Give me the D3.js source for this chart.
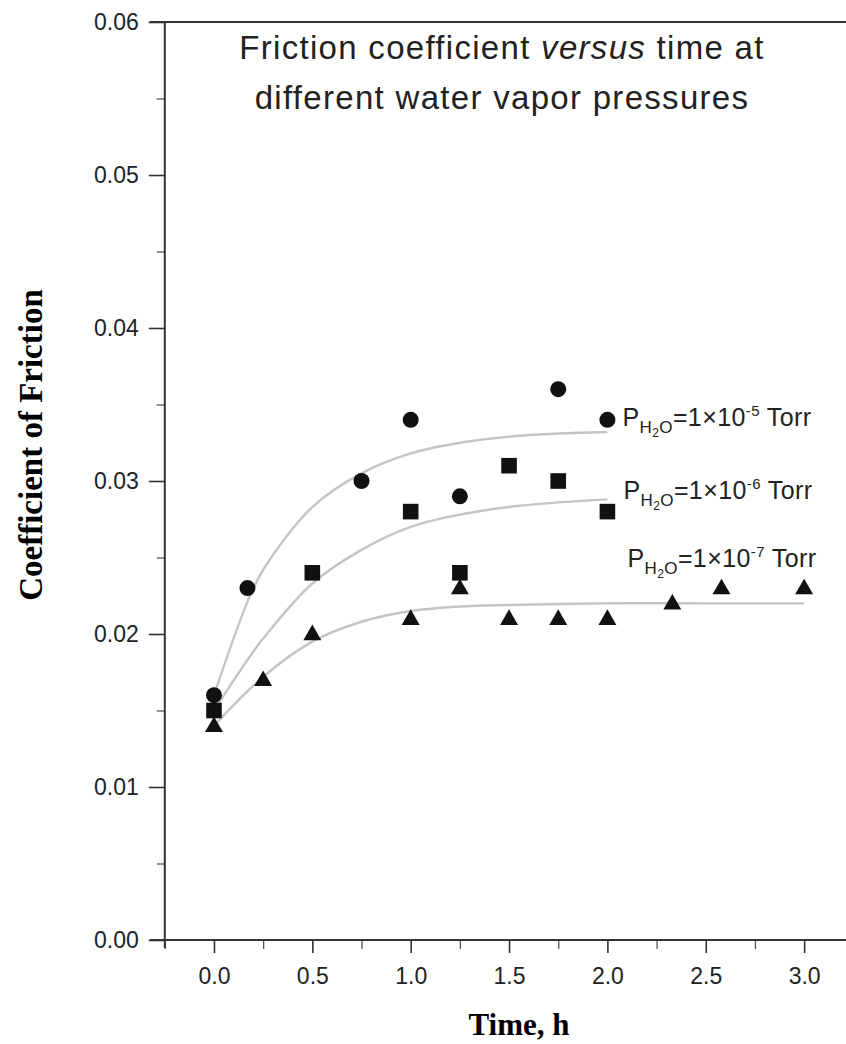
<!DOCTYPE html>
<html>
<head>
<meta charset="utf-8">
<script src="https://cdn.jsdelivr.net/npm/d3@7"></script>
<style>
  body { margin: 0; background: #fff; }
  svg { display: block; }
  .tick-label { font-family: "Liberation Sans", Arial, sans-serif; fill: #222; }
</style>
</head>
<body>
<svg id="chart" width="846" height="1044"></svg>
<script>
// measured points (time in h, coefficient of friction)
const timeCircle = [0, 0.17, 0.75, 1.0, 1.25, 1.75, 2.0];
const cofCircle = [0.016, 0.023, 0.030, 0.034, 0.029, 0.036, 0.034];

const timeSquare = [0, 0.5, 1.0, 1.25, 1.5, 1.75, 2.0];
const cofSquare = [0.015, 0.024, 0.028, 0.024, 0.031, 0.030, 0.028];

const timeTriangle = [0, 0.25, 0.5, 1.0, 1.25, 1.5, 1.75, 2.0, 2.33, 2.58, 3.0];
const cofTriangle = [0.014, 0.017, 0.020, 0.021, 0.023, 0.021, 0.021, 0.021, 0.022, 0.023, 0.023];

// fitted curves
const fitTime = [0, 0.17, 0.25, 0.5, 0.75, 1.0, 1.25, 1.5, 1.75, 2.0];
const fitCircle = [0.0160, 0.0221, 0.0242, 0.0283, 0.0305, 0.0318, 0.0325, 0.0329, 0.0331, 0.0332];
const fitSquare = [0.0150, 0.0183, 0.0197, 0.0233, 0.0255, 0.0270, 0.0278, 0.0283, 0.0286, 0.0288];
const fitTimeTriangle = [0, 0.25, 0.5, 0.75, 1.0, 1.25, 1.5, 2.0, 2.5, 3.0];
const fitTriangle = [0.0140, 0.0172, 0.0195, 0.0208, 0.0215, 0.0218, 0.0219, 0.0220, 0.0220, 0.0220];

// ticks
const xMajorTicks = [0, 0.5, 1.0, 1.5, 2.0, 2.5, 3.0];
const xMinorTicks = [-0.25, 0.25, 0.75, 1.25, 1.75, 2.25, 2.75];
const yMajorTicks = [0, 0.01, 0.02, 0.03, 0.04, 0.05, 0.06];
const yMinorTicks = [0.005, 0.015, 0.025, 0.035, 0.045, 0.055];

// annotation exponents for each series
const pressureExp = ["-5", "-6", "-7"];

const svg = d3.select("#chart");
const fontSans = '"Liberation Sans", Arial, sans-serif';
const fontSerif = '"Liberation Serif", "Times New Roman", serif';

const xScale = d3.scaleLinear().domain([-0.25, 3.22]).range([164.8, 847.4]);
const yScale = d3.scaleLinear().domain([0, 0.06]).range([940, 22]);

// axes: major ticks with labels
svg.append("g")
    .attr("transform", `translate(0, ${yScale(0)})`)
    .call(d3.axisBottom(xScale).tickValues(xMajorTicks).tickSize(13).tickPadding(15)
        .tickFormat(d3.format(".1f")))
    .call(g => g.select(".domain").remove())
    .call(g => g.selectAll("line").attr("stroke", "#333").attr("stroke-width", 1.6))
    .call(g => g.selectAll("text").attr("class", "tick-label")
        .style("font-family", fontSans).style("font-size", "23px"));

svg.append("g")
    .attr("transform", `translate(0, ${yScale(0)})`)
    .call(d3.axisBottom(xScale).tickValues(xMinorTicks).tickSize(9).tickFormat(""))
    .call(g => g.select(".domain").remove())
    .call(g => g.selectAll("line").attr("stroke", "#555").attr("stroke-width", 1.3));

svg.append("g")
    .attr("transform", `translate(${xScale(-0.25)}, 0)`)
    .call(d3.axisLeft(yScale).tickValues(yMajorTicks).tickSize(16).tickPadding(10)
        .tickFormat(d3.format(".2f")))
    .call(g => g.select(".domain").remove())
    .call(g => g.selectAll("line").attr("stroke", "#333").attr("stroke-width", 1.6))
    .call(g => g.selectAll("text").attr("class", "tick-label")
        .style("font-family", fontSans).style("font-size", "23px"));

svg.append("g")
    .attr("transform", `translate(${xScale(-0.25)}, 0)`)
    .call(d3.axisLeft(yScale).tickValues(yMinorTicks).tickSize(8).tickFormat(""))
    .call(g => g.select(".domain").remove())
    .call(g => g.selectAll("line").attr("stroke", "#555").attr("stroke-width", 1.3));

// frame lines
const frame = svg.append("g").attr("stroke", "#333").attr("stroke-width", 2);
frame.append("line")
    .attr("x1", 150).attr("x2", 846)
    .attr("y1", yScale(0)).attr("y2", yScale(0));
frame.append("line")
    .attr("x1", 150).attr("x2", 846)
    .attr("y1", yScale(0.06)).attr("y2", yScale(0.06));
frame.append("line")
    .attr("x1", xScale(-0.25)).attr("x2", xScale(-0.25))
    .attr("y1", yScale(0.06)).attr("y2", yScale(0) + 8);

// fitted curves
const line = d3.line()
    .x(d => xScale(d[0]))
    .y(d => yScale(d[1]))
    .curve(d3.curveCatmullRom.alpha(0.5));

const fits = [
    d3.zip(fitTime, fitCircle),
    d3.zip(fitTime, fitSquare),
    d3.zip(fitTimeTriangle, fitTriangle)
];

svg.append("g")
    .selectAll("path")
    .data(fits)
    .join("path")
        .attr("d", line)
        .attr("fill", "none")
        .attr("stroke", "#c4c4c4")
        .attr("stroke-width", 2.4);

// markers
const markColor = "#111";

svg.append("g")
    .selectAll("circle")
    .data(d3.zip(timeCircle, cofCircle))
    .join("circle")
        .attr("cx", d => xScale(d[0]))
        .attr("cy", d => yScale(d[1]))
        .attr("r", 8)
        .attr("fill", markColor);

svg.append("g")
    .selectAll("rect")
    .data(d3.zip(timeSquare, cofSquare))
    .join("rect")
        .attr("x", d => xScale(d[0]) - 7.8)
        .attr("y", d => yScale(d[1]) - 7.8)
        .attr("width", 15.6)
        .attr("height", 15.6)
        .attr("fill", markColor);

const tri = d3.symbol().type(d3.symbolTriangle).size(140);
svg.append("g")
    .selectAll("path")
    .data(d3.zip(timeTriangle, cofTriangle))
    .join("path")
        .attr("d", tri)
        .attr("transform", d => `translate(${xScale(d[0])}, ${yScale(d[1]) + 1})`)
        .attr("fill", markColor);

// pressure annotations
const labelAnchors = [
    { x: xScale(2.0) + 15, y: yScale(0.034) + 6 },
    { x: xScale(2.0) + 16, y: yScale(0.0287) - 2 },
    { x: xScale(2.0) + 20, y: yScale(0.0244) }
];

labelAnchors.forEach((p, i) => {
    const t = svg.append("text")
        .attr("x", p.x).attr("y", p.y)
        .attr("fill", "#222")
        .style("font-family", fontSans)
        .style("font-size", "25px")
        .style("letter-spacing", "0.4px");
    t.append("tspan").text("P");
    t.append("tspan").text("H").style("font-size", "17px").attr("dy", 7);
    t.append("tspan").text("2").style("font-size", "12px").attr("dy", 4);
    t.append("tspan").text("O").style("font-size", "17px").attr("dy", -4);
    t.append("tspan").text("=1\u00d710").attr("dy", -7);
    t.append("tspan").text(pressureExp[i]).style("font-size", "15px").attr("dy", -10);
    t.append("tspan").text(" Torr").attr("dy", 10);
});

// title
const title = svg.append("text")
    .attr("x", 502)
    .attr("text-anchor", "middle")
    .attr("fill", "#222")
    .style("font-family", fontSans)
    .style("font-size", "33px")
    .style("letter-spacing", "1.3px");
const l1 = title.append("tspan").attr("x", 502).attr("y", 59);
l1.append("tspan").text("Friction coefficient ");
l1.append("tspan").text("versus").style("font-style", "italic");
l1.append("tspan").text(" time at");
title.append("tspan").attr("x", 502).attr("y", 109).text("different water vapor pressures");

// axis titles
svg.append("text")
    .attr("x", 519)
    .attr("y", 1035)
    .attr("text-anchor", "middle")
    .style("font-family", fontSerif)
    .style("font-weight", "bold")
    .style("font-size", "31px")
    .text("Time, h");

svg.append("text")
    .attr("transform", "translate(42, 445) rotate(-90)")
    .attr("text-anchor", "middle")
    .style("font-family", fontSerif)
    .style("font-weight", "bold")
    .style("font-size", "33px")
    .text("Coefficient of Friction");
</script>
</body>
</html>
